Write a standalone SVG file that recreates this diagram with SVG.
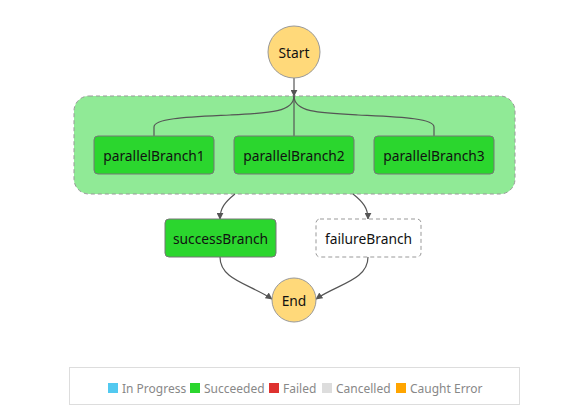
<svg xmlns="http://www.w3.org/2000/svg" width="582" height="420" viewBox="0 0 582 420">
<style>
text{font-family:"Noto Sans","Open Sans","DejaVu Sans",sans-serif;}
.lbl{font-size:13.8px;fill:#111;text-anchor:middle;dominant-baseline:central;}
.term{fill:#FFD97A;stroke:#999;stroke-width:1;}
.ok{fill:#2BD62E;stroke:#777;stroke-width:1;}
.edge{fill:none;stroke:#555;stroke-width:1.2;}
.leg{font-size:12px;fill:#888;dominant-baseline:central;}
</style>
<defs>
<marker id="arr" viewBox="0 0 10 10" refX="9" refY="5" markerWidth="7" markerHeight="7" markerUnits="userSpaceOnUse" orient="auto">
<path d="M0,0 L10,5 L0,10 z" fill="#555"/>
</marker>
</defs>
<rect width="582" height="420" fill="#fff"/>
<g id="parallel">
<rect x="74" y="96" width="441" height="98" rx="15" fill="#90EA96" stroke="#999" stroke-dasharray="4,3"/>
</g>
<g id="connectors">
<path class="edge" d="M294,78 L294,96" marker-end="url(#arr)"/>
<path class="edge" d="M294,96 C294,112 270,113 230,115 C190,117 154,118 154,127 L154,136"/>
<path class="edge" d="M294,96 L294,136"/>
<path class="edge" d="M294,96 C294,112 318,113 358,115 C398,117 434,118 434,127 L434,136"/>
<path class="edge" d="M235,194 C225,202 220,208 220,219" marker-end="url(#arr)"/>
<path class="edge" d="M353,194 C363,202 368,208 368,219" marker-end="url(#arr)"/>
<path class="edge" d="M220,257 C220,280 250,284 272,299" marker-end="url(#arr)"/>
<path class="edge" d="M368,257 C368,280 338,284 316,299" marker-end="url(#arr)"/>
</g>
<g id="start">
<circle class="term" cx="294" cy="52" r="26"/>
<text class="lbl" x="294" y="52">Start</text>
</g>
<g id="parallelBranch1">
<rect class="ok" x="94" y="136" width="120" height="38" rx="4"/>
<text class="lbl" x="154" y="155">parallelBranch1</text>
</g>
<g id="parallelBranch2">
<rect class="ok" x="234" y="136" width="120" height="38" rx="4"/>
<text class="lbl" x="294" y="155">parallelBranch2</text>
</g>
<g id="parallelBranch3">
<rect class="ok" x="374" y="136" width="120" height="38" rx="4"/>
<text class="lbl" x="434" y="155">parallelBranch3</text>
</g>
<g id="successBranch">
<rect class="ok" x="165" y="219" width="111" height="38" rx="4"/>
<text class="lbl" x="220.5" y="238">successBranch</text>
</g>
<g id="failureBranch">
<rect x="316" y="219" width="105" height="38" rx="4" fill="#fff" stroke="#999" stroke-dasharray="4,3"/>
<text class="lbl" x="368.5" y="238">failureBranch</text>
</g>
<g id="end">
<circle class="term" cx="294" cy="300" r="22"/>
<text class="lbl" x="294" y="300">End</text>
</g>
<g id="legend">
<rect x="69.5" y="367.5" width="450" height="37" fill="#fff" stroke="#ddd"/>
<rect x="108" y="383" width="10" height="10" fill="#52C9F0"/>
<text class="leg" x="122" y="388.5">In Progress</text>
<rect x="190" y="383" width="10" height="10" fill="#2BD62E"/>
<text class="leg" x="204" y="388.5">Succeeded</text>
<rect x="269" y="383" width="10" height="10" fill="#DE322F"/>
<text class="leg" x="283" y="388.5">Failed</text>
<rect x="322" y="383" width="10" height="10" fill="#DDDDDD"/>
<text class="leg" x="336" y="388.5">Cancelled</text>
<rect x="396" y="383" width="10" height="10" fill="#FFA500"/>
<text class="leg" x="410" y="388.5">Caught Error</text>
</g>
</svg>
